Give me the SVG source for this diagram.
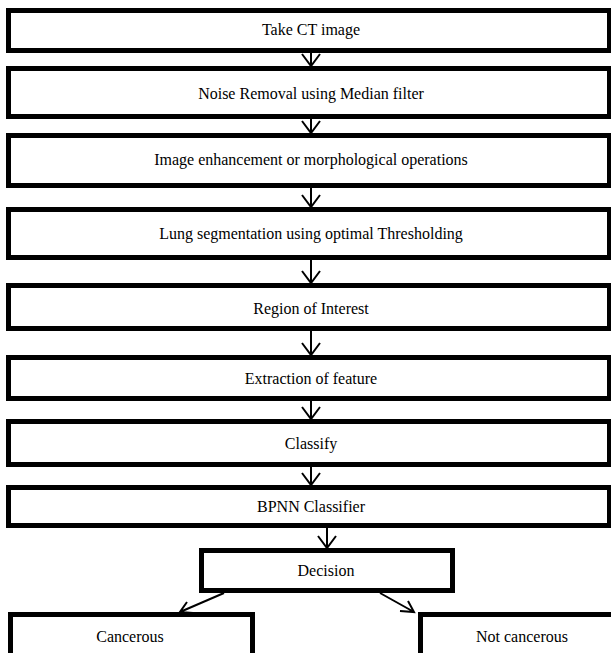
<svg xmlns="http://www.w3.org/2000/svg" width="611" height="653" viewBox="0 0 611 653">
<defs>
<style>
.box{fill:#fff;stroke:#000;stroke-width:5}
.t{font-family:"Liberation Serif","Times New Roman",serif;font-size:16px;fill:#000;text-anchor:middle;dominant-baseline:central}
.c{fill:none;stroke:#000;stroke-width:2}
</style>
</defs>
<rect width="611" height="653" fill="#fff"/>
<g id="connectors">
<path class="c" d="M311 52V66M302 54L311 66L320 54"/>
<path class="c" d="M311 118V133M302 121L311 133L320 121"/>
<path class="c" d="M311 187V207M302 195L311 207L320 195"/>
<path class="c" d="M311 258V283M302 271L311 283L320 271"/>
<path class="c" d="M311 330V355M302 343L311 355L320 343"/>
<path class="c" d="M311 400V419M302 407L311 419L320 407"/>
<path class="c" d="M311 466V485M302 473L311 485L320 473"/>
<path class="c" d="M327 527V548M318 536L327 548L336 536"/>
<path class="c" d="M224 593L180 612M187 602L180 612L193 613"/>
<path class="c" d="M380 593L414 612M400 611L414 612L408 601"/>
</g>
<g id="n1"><rect class="box" x="8.5" y="10.5" width="601" height="40"/><text class="t" x="311" y="29">Take CT image</text></g>
<g id="n2"><rect class="box" x="8.5" y="68.5" width="601" height="48"/><text class="t" x="311" y="93">Noise Removal using Median filter</text></g>
<g id="n3"><rect class="box" x="8.5" y="135.5" width="601" height="50"/><text class="t" x="311" y="159">Image enhancement or morphological operations</text></g>
<g id="n4"><rect class="box" x="8.5" y="209.5" width="601" height="48"/><text class="t" x="311" y="233">Lung segmentation using optimal Thresholding</text></g>
<g id="n5"><rect class="box" x="8.5" y="285.5" width="601" height="43"/><text class="t" x="311" y="308">Region of Interest</text></g>
<g id="n6"><rect class="box" x="8.5" y="357.5" width="601" height="41"/><text class="t" x="311" y="378">Extraction of feature</text></g>
<g id="n7"><rect class="box" x="8.5" y="421.5" width="601" height="43"/><text class="t" x="311" y="443">Classify</text></g>
<g id="n8"><rect class="box" x="8.5" y="487.5" width="601" height="38"/><text class="t" x="311" y="506">BPNN Classifier</text></g>
<g id="n9"><rect class="box" x="201.5" y="550.5" width="251" height="40"/><text class="t" x="326" y="570">Decision</text></g>
<g id="n10"><rect class="box" x="10.5" y="614.5" width="242" height="50"/><text class="t" x="130" y="636">Cancerous</text></g>
<g id="n11"><rect class="box" x="420.5" y="614.5" width="200" height="50"/><text class="t" x="522" y="636">Not cancerous</text></g>
</svg>
